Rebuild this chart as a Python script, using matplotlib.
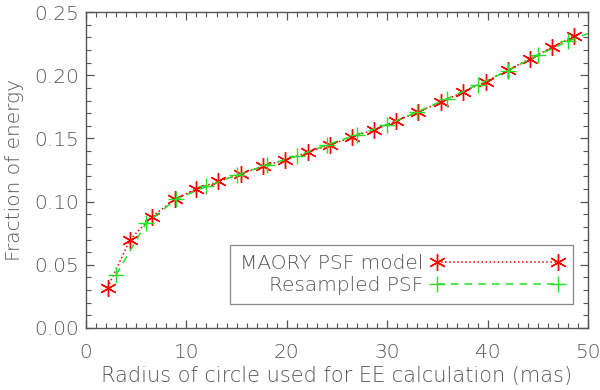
import numpy as np
import matplotlib
matplotlib.use("Agg")
import matplotlib.pyplot as plt
from matplotlib.ticker import MultipleLocator

# valores
maory_r = [2.16, 4.39, 6.55, 8.9, 10.97, 13.19, 15.45, 17.6, 19.8, 22.1, 24.3,
           26.5, 28.7, 30.9, 33.1, 35.4, 37.6, 39.8, 42.0, 44.2, 46.4, 48.6]
maory_ee = [0.032, 0.070, 0.088, 0.102, 0.110, 0.116, 0.122, 0.128, 0.133, 0.139, 0.145,
            0.151, 0.157, 0.164, 0.171, 0.179, 0.187, 0.195, 0.204, 0.213, 0.222, 0.231]

resamp_r = [3, 6, 9, 12, 15, 18, 21, 24, 27, 30, 33, 36, 39, 42, 45, 48, 51]
resamp_ee = [0.042, 0.083, 0.102, 0.112, 0.121, 0.129, 0.136, 0.145, 0.153, 0.161,
             0.171, 0.1815, 0.1925, 0.2035, 0.216, 0.227, 0.236]

gris = "#555555"
plt.rcParams["font.family"] = ["DejaVu Sans"]
plt.rcParams["font.weight"] = "light"
plt.rcParams["axes.labelweight"] = "light"
plt.rcParams["font.size"] = 14.5

fig = plt.figure(figsize=(6, 3.9), dpi=100)
ax = fig.add_axes([0.1433, 0.159, 0.8367, 0.81])

ax.plot(maory_r, maory_ee, color="red", linestyle=":", linewidth=1.1,
        marker=(6, 2, 0), markersize=12, markeredgewidth=1.0,
        label="MAORY PSF model")
ax.plot(resamp_r, resamp_ee, color="#22e022", linestyle=(0, (5, 4)), linewidth=1.1,
        marker="+", markersize=11, markeredgewidth=1.0,
        label="Resampled PSF")

ax.set_xlim(0, 50)
ax.set_ylim(0, 0.25)
ax.xaxis.set_major_locator(MultipleLocator(10))
ax.xaxis.set_minor_locator(MultipleLocator(1))
ax.yaxis.set_major_locator(MultipleLocator(0.05))
ax.yaxis.set_minor_locator(MultipleLocator(0.01))
ax.yaxis.set_major_formatter(plt.FormatStrFormatter("%.2f"))

ax.tick_params(which="both", direction="in", top=True, right=True, colors=gris,
               labelcolor=gris, labelsize=14.5)
ax.tick_params(which="major", length=6, width=0.9)
ax.tick_params(which="minor", length=3.5, width=0.8)
ax.tick_params(axis="x", pad=11)
ax.tick_params(axis="y", pad=5)
for s in ax.spines.values():
    s.set_color(gris)
    s.set_linewidth(1.0)

ax.set_xlabel("Radius of circle used for EE calculation (mas)", color=gris, fontsize=15,
              labelpad=3)
ax.set_ylabel("Fraction of energy", color=gris, fontsize=14.5, labelpad=7)

leg = ax.legend(loc="lower right", bbox_to_anchor=(0.970, 0.076), borderaxespad=0,
                markerfirst=False, numpoints=2, handlelength=6.6, fontsize=14.5,
                fancybox=False, edgecolor="#888888", framealpha=1, borderpad=0.45,
                labelspacing=0.15, handletextpad=0.4)
leg.get_frame().set_linewidth(0.9)
for t in leg.get_texts():
    t.set_color(gris)
    t.set_ha("right")
leg._legend_box.align = "right"

plt.savefig("out.png", dpi=100)
